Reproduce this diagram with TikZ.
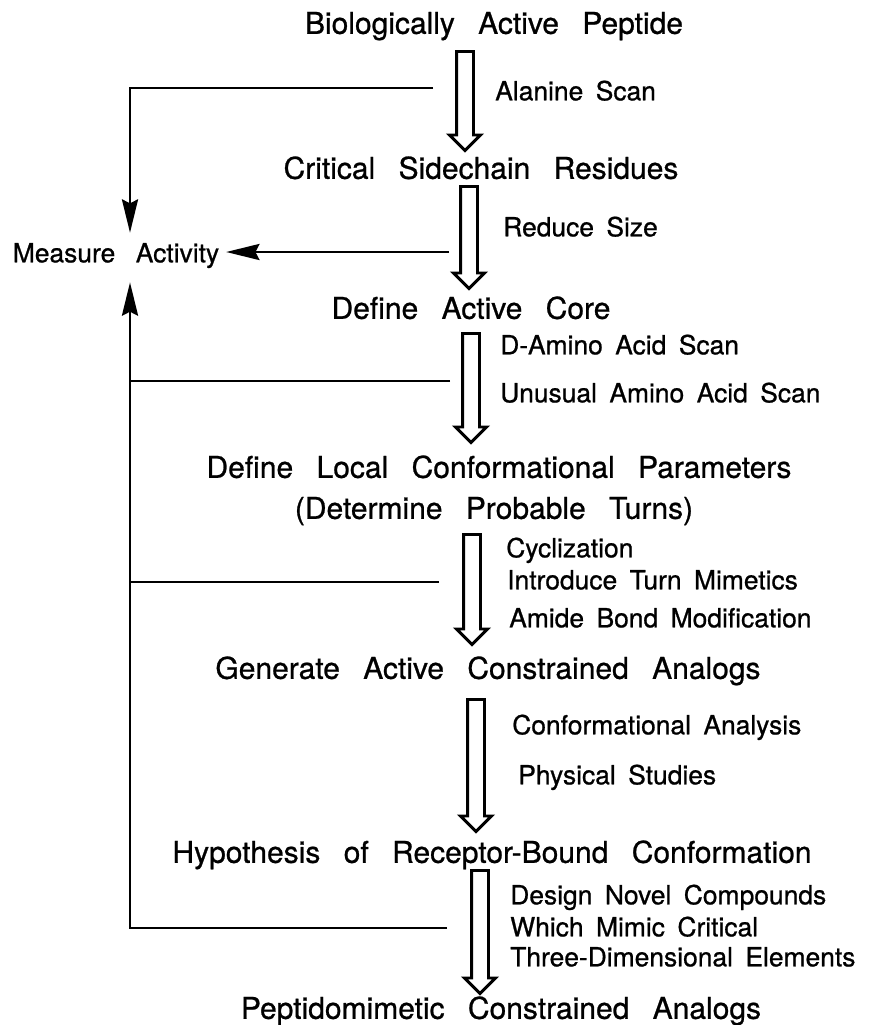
\documentclass[tikz,border=0pt]{standalone}
\usepackage{fontspec}
\setmainfont[WordSpace=2.8,FakeBold=0.8]{TeX Gyre Heros}
\newfontfamily\sidefont[WordSpace=1.7,FakeBold=0.8]{TeX Gyre Heros}
\usetikzlibrary{arrows.meta,shapes.arrows}

\tikzset{
  stage/.style={font=\fontsize{22.5}{27}\selectfont, text height=16.2pt, text depth=0pt, inner sep=0pt},
  method/.style={font=\sidefont\fontsize{19.8}{23}\selectfont, anchor=west, text height=14pt, text depth=0pt, inner sep=0pt},
  bigarrow/.style={single arrow, draw, line width=2.2pt, rotate=-90, anchor=tail, inner xsep=0pt, inner ysep=5.25pt,
    minimum width=21pt, single arrow head extend=5.25pt, minimum height=#1*0.75pt},
  feedback/.style={line width=2.2pt},
  fbarrow/.style={feedback, -{Stealth[length=25pt,width=12pt,inset=3pt]}}
}

\begin{document}
\begin{tikzpicture}[x=0.75pt,y=-0.75pt]
\useasboundingbox (0,0) rectangle (870,1025);

% stages
\node[stage] (pep)   at (494,23)   {Biologically Active Peptide};
\node[stage] (crit)  at (481,168)  {Critical Sidechain Residues};
\node[stage] (core)  at (471,308)  {Define Active Core};
\node[stage] (local) at (499,467)  {Define Local Conformational Parameters};
\node[stage] (turns) at (494,508)  {(Determine Probable Turns)};
\node[stage] (gen)   at (488,668)  {Generate Active Constrained Analogs};
\node[stage] (hyp)   at (492,852)  {Hypothesis of Receptor-Bound Conformation};
\node[stage] (mim)   at (501,1008) {Peptidomimetic Constrained Analogs};

% big open arrows between stages
\node[bigarrow=99]  (a1) at (465,50)  {};
\node[bigarrow=102] (a2) at (469,185) {};
\node[bigarrow=109] (a3) at (471,332) {};
\node[bigarrow=110] (a4) at (472,533) {};
\node[bigarrow=132] (a5) at (476,698) {};
\node[bigarrow=123] (a6) at (480,869) {};

% what is done at each step
\node[method] (ala)  at (495,91)  {Alanine Scan};
\node[method] (red)  at (503,227) {Reduce Size};
\node[method] (dam)  at (500,345) {D-Amino Acid Scan};
\node[method] (unu)  at (500,393) {Unusual Amino Acid Scan};
\node[method] (cyc)  at (506,548) {Cyclization};
\node[method] (itm)  at (507,580) {Introduce Turn Mimetics};
\node[method] (amb)  at (509,618) {Amide Bond Modification};
\node[method] (cfa)  at (512,725) {Conformational Analysis};
\node[method] (phs)  at (518,775) {Physical Studies};
\node[method] (dnc)  at (510,895) {Design Novel Compounds};
\node[method] (wmc)  at (510,927) {Which Mimic Critical};
\node[method] (tde)  at (510,957) {Three-Dimensional Elements};

% feedback loop
\node[method, anchor=center, font=\fontsize{19.8}{23}\selectfont] (meas) at (116,253) {Measure Activity};
\coordinate (col) at (130,0);
\coordinate (fb1) at (433,88);
\coordinate (fb2) at (449,252);
\coordinate (fb3) at (450,381);
\coordinate (fb4) at (439,582);
\coordinate (fb5) at (447,928);

\draw[fbarrow, shorten >=8pt] (fb1) -| (col |- meas.north);
\draw[fbarrow, shorten >=5pt] (fb2) -- (fb2 -| meas.east);
\draw[fbarrow, shorten >=14.8pt] (fb5) -| (col |- meas.south);
\draw[feedback] (fb3) -- (fb3 -| col);
\draw[feedback] (fb4) -- (fb4 -| col);
\end{tikzpicture}
\end{document}
